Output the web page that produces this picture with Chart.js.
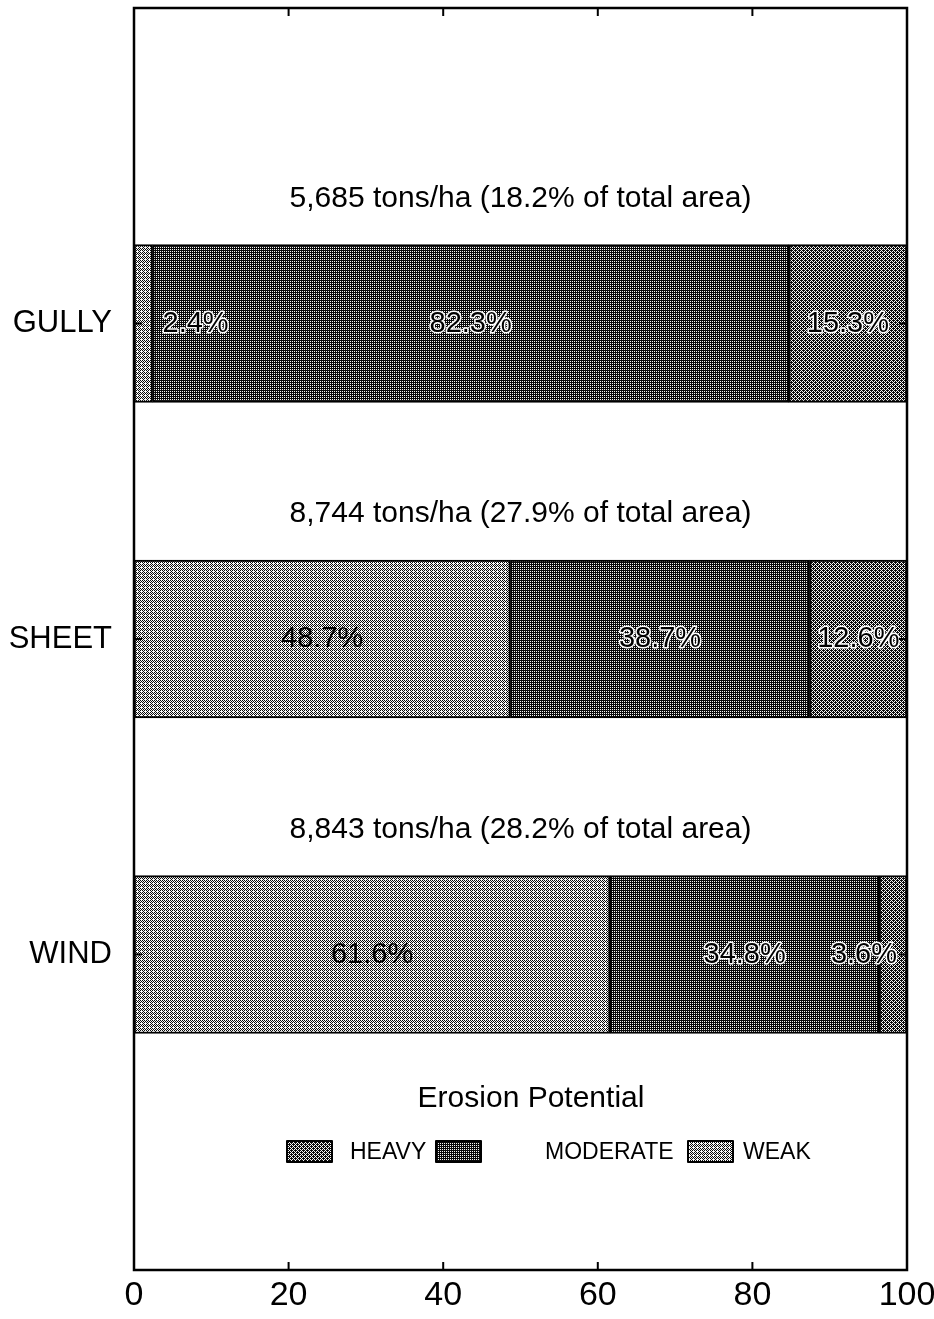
<!DOCTYPE html>
<html>
<head>
<meta charset="utf-8">
<title>Erosion Potential</title>
<script src="https://cdn.jsdelivr.net/npm/chart.js@4.4.1/dist/chart.umd.min.js"></script>
<style>
  html, body { margin: 0; padding: 0; background: #fff; }
  #wrap { width: 934px; height: 1319px; position: relative; }
</style>
</head>
<body>
<div id="wrap"><canvas id="erosionChart"></canvas></div>
<script>
// empty slots top and bottom keep the frame one band above GULLY and below WIND
const categories = ["", "GULLY", "SHEET", "WIND", ""];
const weak = [null, 2.4, 48.7, 61.6, null];
const moderate = [null, 82.3, 38.7, 34.8, null];
const heavy = [null, 15.3, 12.6, 3.6, null];
const totals = [
  null,
  "5,685 tons/ha (18.2% of total area)",
  "8,744 tons/ha (27.9% of total area)",
  "8,843 tons/ha (28.2% of total area)",
  null,
];
const xTicks = [0, 20, 40, 60, 80, 100];

const FONT = '"Liberation Sans", Arial, sans-serif';
Chart.defaults.font.family = FONT;
Chart.defaults.color = "#000";

// halftone-ish fills, ordered dither on a 4x4 tile
const bayer = [0, 8, 2, 10, 12, 4, 14, 6, 3, 11, 1, 9, 15, 7, 13, 5];
function dither(level) {
  const c = document.createElement("canvas");
  c.width = 4;
  c.height = 4;
  const g = c.getContext("2d");
  for (let i = 0; i < 16; i++) {
    g.fillStyle = bayer[i] < level ? "#0a0a0a" : "#f8f8f8";
    g.fillRect(i % 4, Math.floor(i / 4), 1, 1);
  }
  return g.createPattern(c, "repeat");
}

const weakFill = dither(7);
const moderateFill = dither(12);
const heavyFill = dither(10);

const framePlugin = {
  id: "frame",
  afterDraw(chart) {
    const { ctx, chartArea: a, scales } = chart;
    ctx.save();
    ctx.strokeStyle = "#000";
    ctx.lineWidth = 2.5;
    ctx.strokeRect(a.left, a.top, a.right - a.left, a.bottom - a.top);
    ctx.lineWidth = 2;
    ctx.beginPath();
    xTicks.slice(1, -1).forEach((t) => {
      const x = scales.x.getPixelForValue(t);
      ctx.moveTo(x, a.top);
      ctx.lineTo(x, a.top + 8);
      ctx.moveTo(x, a.bottom);
      ctx.lineTo(x, a.bottom - 8);
    });
    categories.forEach((c, i) => {
      if (!c) return;
      const y = scales.y.getPixelForValue(i);
      ctx.moveTo(a.left, y);
      ctx.lineTo(a.left + 8, y);
      ctx.moveTo(a.right, y);
      ctx.lineTo(a.right - 8, y);
    });
    ctx.stroke();
    ctx.restore();
  },
};

const labelPlugin = {
  id: "segmentLabels",
  afterDatasetsDraw(chart) {
    const { ctx, scales } = chart;
    ctx.save();
    ctx.font = "29px " + FONT;
    ctx.textAlign = "center";
    ctx.textBaseline = "middle";
    ctx.lineJoin = "round";
    const last = chart.data.datasets.length - 1;
    chart.data.datasets.forEach((ds, di) => {
      chart.getDatasetMeta(di).data.forEach((bar, i) => {
        const v = ds.data[i];
        if (v == null) return;
        const text = v.toFixed(1) + "%";
        const w = ctx.measureText(text).width;
        let x = (bar.x + bar.base) / 2;
        if (w + 6 > Math.abs(bar.x - bar.base)) {
          x = di === last ? bar.x - 10 - w / 2 : bar.x + 10 + w / 2;
        }
        // light segments get plain text, darker ones a white halo
        if (di > 0 || x > bar.x) {
          ctx.strokeStyle = "#fff";
          ctx.lineWidth = 3;
          ctx.strokeText(text, x, bar.y);
        }
        ctx.fillStyle = "#000";
        ctx.fillText(text, x, bar.y);
      });
    });

    // totals above each bar
    ctx.font = "30px " + FONT;
    totals.forEach((t, i) => {
      if (!t) return;
      const y = scales.y.getPixelForValue(i) - 125;
      ctx.fillText(t, scales.x.getPixelForValue(50), y);
    });

    // legend block
    ctx.fillText("Erosion Potential", 531, 1099);
    ctx.font = "23px " + FONT;
    ctx.textAlign = "left";
    const items = [
      { label: "HEAVY", fill: heavyFill, box: 287, text: 350 },
      { label: "MODERATE", fill: moderateFill, box: 436, text: 545 },
      { label: "WEAK", fill: weakFill, box: 688, text: 743 },
    ];
    items.forEach((it) => {
      ctx.fillStyle = it.fill;
      ctx.fillRect(it.box, 1141, 45, 21);
      ctx.strokeStyle = "#000";
      ctx.lineWidth = 2;
      ctx.strokeRect(it.box, 1141, 45, 21);
      ctx.fillStyle = "#000";
      ctx.fillText(it.label, it.text, 1153);
    });
    ctx.restore();
  },
};

const ctx = document.getElementById("erosionChart");

const erosionChart = new Chart(ctx, {
  type: "bar",
  data: {
    labels: categories,
    datasets: [
      { label: "WEAK", data: weak, backgroundColor: weakFill },
      { label: "MODERATE", data: moderate, backgroundColor: moderateFill },
      { label: "HEAVY", data: heavy, backgroundColor: heavyFill },
    ].map((d) => ({
      ...d,
      borderColor: "#000",
      borderWidth: 2,
      borderSkipped: false,
      barThickness: 158,
    })),
  },
  options: {
    indexAxis: "y",
    responsive: true,
    maintainAspectRatio: false,
    animation: false,
    layout: {
      padding: { top: 8, right: 27, left: 0, bottom: 0 },
    },
    plugins: {
      legend: { display: false },
      tooltip: { enabled: false },
    },
    scales: {
      x: {
        type: "linear",
        stacked: true,
        min: 0,
        max: 100,
        ticks: {
          stepSize: 20,
          maxRotation: 0,
          padding: 5,
          color: "#000",
          font: { size: 34 },
        },
        grid: { display: false, drawTicks: false },
        border: { display: false },
        afterFit(scale) {
          scale.height = 49;
          scale.paddingLeft = 0;
          scale.paddingRight = 0;
        },
      },
      y: {
        type: "category",
        stacked: true,
        offset: false,
        ticks: {
          padding: 22,
          color: "#000",
          font: { size: 31 },
        },
        grid: { display: false, drawTicks: false },
        border: { display: false },
        afterFit(scale) {
          scale.width = 134;
          scale.paddingTop = 0;
          scale.paddingBottom = 0;
        },
      },
    },
  },
  plugins: [framePlugin, labelPlugin],
});
</script>
</body>
</html>
